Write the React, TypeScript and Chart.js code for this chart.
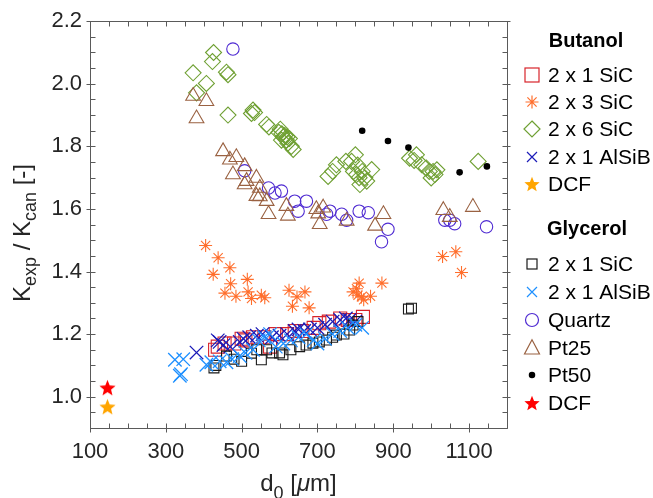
import React, { useEffect, useRef } from 'react';
import { Chart, registerables } from 'chart.js';

Chart.register(...registerables);

const X_MIN = 100;
const X_MAX = 1200;
const Y_MIN = 0.9;
const Y_MAX = 2.2;
const X_TICKS = [100, 300, 500, 700, 900, 1100];
const Y_TICKS = [1.0, 1.2, 1.4, 1.6, 1.8, 2.0, 2.2];

// Butanol 2 x 1 SiC
const BUT_SIC21_X = [430, 437, 455, 480, 500, 510, 530, 560, 575, 590, 620, 640, 660, 690, 705, 730, 760, 780, 800, 820];
const BUT_SIC21_Y = [1.15, 1.16, 1.17, 1.17, 1.185, 1.18, 1.19, 1.19, 1.16, 1.2, 1.2, 1.21, 1.21, 1.22, 1.235, 1.24, 1.25, 1.245, 1.245, 1.255];
// Butanol 2 x 3 SiC
const BUT_SIC23_X = [405, 438, 469, 425, 471, 456, 485, 515, 517, 526, 552, 561, 625, 646, 667, 634, 678, 794, 803, 810, 807, 816, 822, 840, 870, 1030, 1065, 1080];
const BUT_SIC23_Y = [1.483, 1.444, 1.412, 1.391, 1.361, 1.331, 1.321, 1.375, 1.335, 1.314, 1.324, 1.316, 1.34, 1.319, 1.335, 1.289, 1.284, 1.335, 1.345, 1.363, 1.324, 1.319, 1.31, 1.321, 1.363, 1.448, 1.463, 1.397];
// Butanol 2 x 6 SiC
const BUT_SIC26_X = [426, 423, 372, 460, 464, 407, 381, 464, 526, 530, 534, 566, 572, 598, 602, 606, 610, 614, 618, 622, 626, 631, 636, 605, 620, 728, 740, 750, 775, 790, 795, 800, 803, 806, 810, 812, 818, 825, 830, 843, 943, 955, 961, 975, 987, 995, 1000, 1005, 1010, 1015, 1124];
const BUT_SIC26_Y = [2.1, 2.071, 2.035, 2.037, 2.029, 2.001, 1.971, 1.9, 1.905, 1.916, 1.908, 1.87, 1.862, 1.845, 1.855, 1.84, 1.83, 1.835, 1.82, 1.81, 1.825, 1.8, 1.79, 1.82, 1.83, 1.704, 1.72, 1.741, 1.752, 1.752, 1.72, 1.773, 1.71, 1.74, 1.7, 1.678, 1.72, 1.7, 1.689, 1.726, 1.762, 1.755, 1.773, 1.741, 1.731, 1.72, 1.699, 1.72, 1.71, 1.725, 1.752];
// Butanol 2 x 1 AlSiB
const BUT_ALSIB_X = [381, 437, 442, 452, 470, 495, 505, 520, 540, 555, 580, 600, 620, 640, 650, 665, 680, 700, 720, 740, 760, 775, 785, 800];
const BUT_ALSIB_Y = [1.141, 1.18, 1.175, 1.165, 1.16, 1.175, 1.185, 1.19, 1.195, 1.2, 1.19, 1.195, 1.2, 1.21, 1.215, 1.21, 1.215, 1.22, 1.23, 1.24, 1.245, 1.25, 1.245, 1.24];
// Butanol DCF
const BUT_DCF_X = [146];
const BUT_DCF_Y = [0.968];

// Glycerol 2 x 1 SiC
const GLY_SIC21_X = [427, 432, 460, 480, 500, 526, 540, 552, 566, 580, 600, 609, 630, 653, 670, 688, 705, 724, 740, 750, 770, 785, 794, 807, 940, 948];
const GLY_SIC21_Y = [1.092, 1.1, 1.13, 1.12, 1.113, 1.139, 1.15, 1.118, 1.15, 1.14, 1.14, 1.134, 1.15, 1.16, 1.165, 1.171, 1.175, 1.181, 1.19, 1.197, 1.2, 1.213, 1.229, 1.24, 1.28, 1.283];
// Glycerol 2 x 1 AlSiB
const GLY_ALSIB_X = [324, 346, 337, 340, 407, 420, 442, 460, 475, 495, 510, 530, 545, 560, 575, 590, 610, 630, 650, 670, 690, 700, 720, 740, 760, 780, 800, 818];
const GLY_ALSIB_Y = [1.118, 1.12, 1.067, 1.072, 1.102, 1.11, 1.113, 1.11, 1.12, 1.13, 1.14, 1.15, 1.18, 1.19, 1.2, 1.16, 1.17, 1.18, 1.19, 1.2, 1.18, 1.17, 1.185, 1.2, 1.21, 1.22, 1.23, 1.22];
// Quartz
const QUARTZ_X = [477, 508, 571, 588, 605, 640, 649, 671, 724, 733, 764, 777, 810, 834, 886, 869, 1036, 1049, 1062, 1146];
const QUARTZ_Y = [2.111, 1.722, 1.667, 1.651, 1.657, 1.625, 1.593, 1.625, 1.583, 1.593, 1.583, 1.564, 1.593, 1.588, 1.535, 1.495, 1.564, 1.564, 1.553, 1.543];
// Pt25
const PT25_X = [372, 407, 381, 451, 469, 486, 508, 477, 513, 539, 508, 548, 539, 548, 566, 571, 618, 622, 697, 715, 702, 706, 777, 852, 874, 1032, 1049, 1110];
const PT25_Y = [1.961, 1.944, 1.889, 1.784, 1.757, 1.765, 1.736, 1.71, 1.689, 1.699, 1.678, 1.667, 1.641, 1.64, 1.625, 1.583, 1.609, 1.578, 1.599, 1.604, 1.585, 1.551, 1.562, 1.546, 1.583, 1.596, 1.574, 1.606];
// Pt50
const PT50_X = [818, 886, 940, 1075, 1147];
const PT50_Y = [1.85, 1.817, 1.796, 1.717, 1.736];
// Glycerol DCF
const GLY_DCF_X = [146];
const GLY_DCF_Y = [1.029];

const BUTANOL_LABELS = ['2 x 1 SiC', '2 x 3 SiC', '2 x 6 SiC', '2 x 1 AlSiB', 'DCF'];
const GLYCEROL_LABELS = ['2 x 1 SiC', '2 x 1 AlSiB', 'Quartz', 'Pt25', 'Pt50', 'DCF'];

const C_RED = '#D8232A';
const C_ORANGE = '#FF6E2C';
const C_GREEN = '#6FA033';
const C_NAVY = '#1C1CB8';
const C_GOLD = '#FFA500';
const C_BLACK = '#1A1A1A';
const C_SKY = '#1E90FF';
const C_VIOLET = '#4F2BD2';
const C_BROWN = '#9A6242';
const C_STAR_RED = '#FF0000';
const AXIS_COLOR = '#5a5a5a';
const TEXT_COLOR = '#262626';
const FONT = '"Liberation Sans", Arial, Helvetica, sans-serif';

type MarkerKind = 'square' | 'asterisk' | 'diamond' | 'x' | 'star' | 'circle' | 'triangle' | 'dot';

function pts(xs: number[], ys: number[]) {
  return xs.map((x, i) => ({ x, y: ys[i] }));
}

function starPath(g: CanvasRenderingContext2D, cx: number, cy: number, ro: number, ri: number) {
  g.beginPath();
  for (let i = 0; i < 10; i++) {
    const r = i % 2 === 0 ? ro : ri;
    const a = -Math.PI / 2 + (i * Math.PI) / 5;
    const px = cx + r * Math.cos(a);
    const py = cy + r * Math.sin(a);
    if (i === 0) g.moveTo(px, py);
    else g.lineTo(px, py);
  }
  g.closePath();
}

function makeStar(size: number, color: string) {
  const c = document.createElement('canvas');
  c.width = size;
  c.height = size;
  const g = c.getContext('2d')!;
  g.fillStyle = color;
  starPath(g, size / 2, size / 2 + 0.8, size / 2, size * 0.22);
  g.fill();
  return c;
}

function drawMarker(ctx: CanvasRenderingContext2D, kind: MarkerKind, x: number, y: number, s: number, color: string) {
  ctx.save();
  ctx.strokeStyle = color;
  ctx.fillStyle = color;
  ctx.lineWidth = 1.2;
  ctx.beginPath();
  switch (kind) {
    case 'square':
      ctx.strokeRect(x - s / 2, y - s / 2, s, s);
      break;
    case 'asterisk': {
      const r = s / 2;
      for (let k = 0; k < 4; k++) {
        const a = (k * Math.PI) / 4;
        ctx.moveTo(x - r * Math.cos(a), y - r * Math.sin(a));
        ctx.lineTo(x + r * Math.cos(a), y + r * Math.sin(a));
      }
      ctx.stroke();
      break;
    }
    case 'diamond':
      ctx.moveTo(x, y - s / 2);
      ctx.lineTo(x + s / 2, y);
      ctx.lineTo(x, y + s / 2);
      ctx.lineTo(x - s / 2, y);
      ctx.closePath();
      ctx.stroke();
      break;
    case 'x':
      ctx.moveTo(x - s / 2, y - s / 2);
      ctx.lineTo(x + s / 2, y + s / 2);
      ctx.moveTo(x + s / 2, y - s / 2);
      ctx.lineTo(x - s / 2, y + s / 2);
      ctx.stroke();
      break;
    case 'star':
      starPath(ctx, x, y + 0.8, s / 2, s * 0.22);
      ctx.fill();
      break;
    case 'circle':
      ctx.arc(x, y, s / 2, 0, Math.PI * 2);
      ctx.stroke();
      break;
    case 'triangle':
      ctx.moveTo(x, y - s * 0.55);
      ctx.lineTo(x + s / 2, y + s * 0.4);
      ctx.lineTo(x - s / 2, y + s * 0.4);
      ctx.closePath();
      ctx.stroke();
      break;
    case 'dot':
      ctx.arc(x, y, s / 2, 0, Math.PI * 2);
      ctx.fill();
      break;
  }
  ctx.restore();
}

const BUTANOL_MARKERS: [MarkerKind, string, number][] = [
  ['square', C_RED, 14],
  ['asterisk', C_ORANGE, 13],
  ['diamond', C_GREEN, 16],
  ['x', C_NAVY, 10],
  ['star', C_GOLD, 16],
];
const GLYCEROL_MARKERS: [MarkerKind, string, number][] = [
  ['square', C_BLACK, 10],
  ['x', C_SKY, 10],
  ['circle', C_VIOLET, 13],
  ['triangle', C_BROWN, 15],
  ['dot', '#000000', 6.5],
  ['star', C_STAR_RED, 16],
];

// parts: [text, isSubscript, isItalic]
function drawRich(ctx: CanvasRenderingContext2D, parts: [string, boolean, boolean][], x: number, y: number, big: number, small: number, subShift: number, measureOnly = false) {
  let w = 0;
  for (const [t, sub, it] of parts) {
    ctx.font = `${it ? 'italic ' : ''}${sub ? small : big}px ${FONT}`;
    if (!measureOnly) ctx.fillText(t, x + w, y + (sub ? subShift : 0));
    w += ctx.measureText(t).width;
  }
  return w;
}

const framePlugin = {
  id: 'framePlugin',
  afterDraw(chart: any) {
    const { ctx, chartArea: a, scales } = chart;
    const xs = scales.x;
    const ys = scales.y;
    const L = Math.round(a.left) + 0.5;
    const R = Math.round(a.right) + 0.5;
    const T = Math.round(a.top) + 0.5;
    const B = Math.round(a.bottom) + 0.5;
    ctx.save();
    ctx.strokeStyle = AXIS_COLOR;
    ctx.lineWidth = 1;
    ctx.beginPath();
    ctx.rect(L, T, R - L, B - T);
    for (let v = X_MIN; v <= X_MAX + 1e-6; v += 50) {
      const px = Math.round(xs.getPixelForValue(v)) + 0.5;
      const major = X_TICKS.includes(v);
      ctx.moveTo(px, B + (major ? 4 : 0));
      ctx.lineTo(px, B - 5);
      ctx.moveTo(px, T);
      ctx.lineTo(px, T + 5);
    }
    for (let k = 0; k <= 26; k++) {
      const v = Y_MIN + k * 0.05;
      const py = Math.round(ys.getPixelForValue(v)) + 0.5;
      const major = k % 4 === 2;
      ctx.moveTo(L - (major ? 4 : 0), py);
      ctx.lineTo(L + 5, py);
      ctx.moveTo(R + (major ? 3 : 0), py);
      ctx.lineTo(R - 5, py);
    }
    ctx.stroke();

    // axis titles
    ctx.fillStyle = TEXT_COLOR;
    ctx.textBaseline = 'alphabetic';
    ctx.textAlign = 'left';
    const xParts: [string, boolean, boolean][] = [['d', false, false], ['0', true, false], [' [', false, false], ['\u03bc', false, true], ['m]', false, false]];
    const xw = drawRich(ctx, xParts, 0, 0, 24, 18, 8, true);
    drawRich(ctx, xParts, (a.left + a.right) / 2 - xw / 2, 491, 24, 18, 8);

    const yParts: [string, boolean, boolean][] = [['K', false, false], ['exp', true, false], [' / K', false, false], ['can', true, false], [' [-]', false, false]];
    const yw = drawRich(ctx, yParts, 0, 0, 24, 18, 6, true);
    ctx.save();
    ctx.translate(30, 233);
    ctx.rotate(-Math.PI / 2);
    drawRich(ctx, yParts, -yw / 2, 0, 24, 18, 6);
    ctx.restore();

    // legend
    const mx = 532;
    const tx = 548;
    ctx.textBaseline = 'middle';
    ctx.textAlign = 'center';
    ctx.font = `bold 20px ${FONT}`;
    ctx.fillStyle = '#000000';
    ctx.fillText('Butanol', 586, 41);
    ctx.fillText('Glycerol', 587, 229);
    ctx.textAlign = 'left';
    const bY = [75, 102, 129, 157, 184];
    BUTANOL_LABELS.forEach((lab, i) => {
      const [k, c, s] = BUTANOL_MARKERS[i];
      drawMarker(ctx, k, mx, bY[i], s, c);
      ctx.fillStyle = '#000000';
      ctx.font = `21px ${FONT}`;
      ctx.fillText(lab, tx, bY[i] + 1);
    });
    const gY = [264, 292, 320, 348, 375, 403];
    GLYCEROL_LABELS.forEach((lab, i) => {
      const [k, c, s] = GLYCEROL_MARKERS[i];
      drawMarker(ctx, k, mx, gY[i], s, c);
      ctx.fillStyle = '#000000';
      ctx.font = `21px ${FONT}`;
      ctx.fillText(lab, tx, gY[i] + 1);
    });
    ctx.restore();
  },
};

export default function App() {
  const ref = useRef<HTMLCanvasElement | null>(null);
  useEffect(() => {
    document.body.style.margin = '0';
    const canvas = ref.current!;
    const goldStar = makeStar(17, C_GOLD);
    const redStar = makeStar(17, C_STAR_RED);
    const hollow = 'rgba(0,0,0,0)';
    const mk = (label: string, xs: number[], ys: number[], style: any, color: string, radius: number, fill = hollow, bw = 1.1) => ({
      label,
      data: pts(xs, ys),
      pointStyle: style,
      pointRadius: radius,
      pointHoverRadius: radius,
      pointBorderColor: color,
      pointBackgroundColor: fill,
      pointBorderWidth: bw,
      showLine: false,
    });
    const datasets: any[] = [
      mk('Butanol 2 x 1 SiC', BUT_SIC21_X, BUT_SIC21_Y, 'rect', C_RED, 9.2),
      mk('Butanol 2 x 3 SiC', BUT_SIC23_X, BUT_SIC23_Y, 'star', C_ORANGE, 6.5),
      mk('Butanol 2 x 6 SiC', BUT_SIC26_X, BUT_SIC26_Y, 'rectRot', C_GREEN, 8),
      mk('Butanol 2 x 1 AlSiB', BUT_ALSIB_X, BUT_ALSIB_Y, 'crossRot', C_NAVY, 9.5, hollow, 1.3),
      mk('Butanol DCF', BUT_DCF_X, BUT_DCF_Y, goldStar, C_GOLD, 8),
      mk('Glycerol 2 x 1 SiC', GLY_SIC21_X, GLY_SIC21_Y, 'rect', C_BLACK, 7),
      mk('Glycerol 2 x 1 AlSiB', GLY_ALSIB_X, GLY_ALSIB_Y, 'crossRot', C_SKY, 9.5, hollow, 1.3),
      mk('Quartz', QUARTZ_X, QUARTZ_Y, 'circle', C_VIOLET, 6.2),
      mk('Pt25', PT25_X, PT25_Y, 'triangle', C_BROWN, 8.5),
      mk('Pt50', PT50_X, PT50_Y, 'circle', '#000000', 3.3, '#000000', 0),
      mk('Glycerol DCF', GLY_DCF_X, GLY_DCF_Y, redStar, C_STAR_RED, 8),
    ];
    datasets.forEach((d, i) => (d.order = -i));
    const chart = new Chart(canvas, {
      type: 'scatter',
      data: { datasets },
      options: {
        animation: false,
        responsive: false,
        devicePixelRatio: 1,
        layout: { padding: { left: 0, right: 146, top: 19, bottom: 0 } },
        plugins: { legend: { display: false }, tooltip: { enabled: false } },
        scales: {
          x: {
            type: 'linear',
            min: X_MIN,
            max: X_MAX,
            afterBuildTicks: (s: any) => {
              s.ticks = X_TICKS.map((v) => ({ value: v }));
            },
            afterFit: (s: any) => {
              s.height = 70;
            },
            grid: { display: false, drawTicks: false },
            border: { display: false },
            ticks: {
              autoSkip: false,
              maxRotation: 0,
              padding: 11,
              color: TEXT_COLOR,
              font: { family: FONT, size: 22 },
              callback: (v: any) => String(v),
            },
          },
          y: {
            type: 'linear',
            min: Y_MIN,
            max: Y_MAX,
            afterBuildTicks: (s: any) => {
              s.ticks = Y_TICKS.map((v) => ({ value: v }));
            },
            afterFit: (s: any) => {
              s.width = 90;
            },
            grid: { display: false, drawTicks: false },
            border: { display: false },
            ticks: {
              autoSkip: false,
              padding: 8,
              color: TEXT_COLOR,
              font: { family: FONT, size: 22 },
              callback: (v: any) => Number(v).toFixed(1),
            },
          },
        },
      },
      plugins: [framePlugin],
    });
    return () => chart.destroy();
  }, []);
  return (
    <div style={{ width: 653, height: 498 }}>
      <canvas ref={ref} width={653} height={498} style={{ display: 'block' }} />
    </div>
  );
}
